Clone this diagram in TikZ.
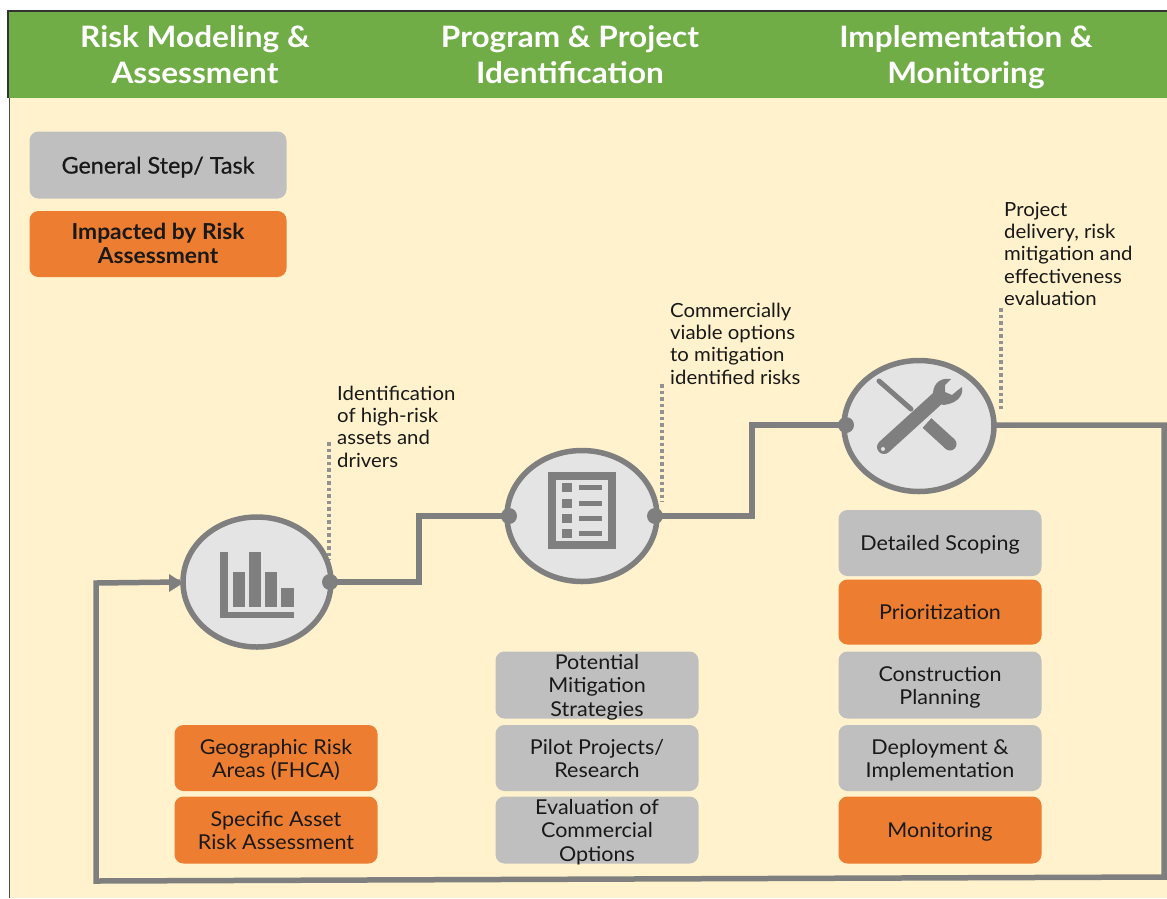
\documentclass[tikz,border=0pt]{standalone}
\usepackage{fontspec}
\usetikzlibrary{shapes.geometric}
\setmainfont{Lato}
\definecolor{hdr}{HTML}{70AD47}
\definecolor{cream}{HTML}{FFF2CC}
\definecolor{gbox}{HTML}{BFBFBF}
\definecolor{obox}{HTML}{ED7D31}
\definecolor{lineg}{HTML}{7F7F7F}
\definecolor{cfill}{HTML}{E4E4E4}
\newcommand{\tline}[1]{\smash{#1}\rule[-0.17\baselineskip]{0pt}{\baselineskip}}
\tikzset{
 x=1pt,y=-1pt,
 hdrtext/.style={text=white,font=\fontsize{29.5}{36}\selectfont\bfseries\addfontfeature{FakeStretch=1.07},align=center,inner sep=0pt},
 boxg/.style={fill=gbox,rounded corners=9pt,minimum width=#1,text=black!90,font=\fontsize{20.5}{23.5}\selectfont\addfontfeature{FakeStretch=1.05},align=center,inner sep=0pt},
 boxo/.style={fill=obox,rounded corners=9pt,minimum width=#1,text=black!90,font=\fontsize{20.5}{23.5}\selectfont\addfontfeature{FakeStretch=1.05},align=center,inner sep=0pt},
 tight/.style={inner ysep=-2pt},
 circ/.style={ellipse,draw=lineg,line width=5.5pt,fill=cfill,inner sep=0pt},
 flow/.style={draw=lineg,line width=5.5pt},
 dots/.style={draw=lineg!85,line width=3.5pt,dash pattern=on 3.5pt off 3pt},
 port/.style={circle,fill=lineg,minimum size=16pt,inner sep=0pt},
 note/.style={font=\fontsize{19.5}{22.2}\selectfont\addfontfeature{FakeStretch=1.045},text=black!90,align=left,anchor=north west,inner sep=0pt},
 icon/.style={fill=lineg,draw=none}
}
\begin{document}
\begin{tikzpicture}
\useasboundingbox (0,0) rectangle (1167,898);
\fill[white] (0,0) rectangle (1167,898);
\fill[cream] (9,96) rectangle (1167,898);
\fill[hdr] (8,12) rectangle (1167,98);
\draw[black!80,line width=1.5pt] (8,98) -- (8,11) -- (1167,11);
\draw[black!70,line width=1.2pt] (9.5,98) -- (9.5,898);
\node[hdrtext] (h1) at (195,53.5) {\tline{Risk Modeling \&}\\\tline{Assessment}};
\node[hdrtext] (h2) at (570,53.5) {\tline{Program \& Project}\\\tline{Identification}};
\node[hdrtext] (h3) at (966,53.5) {\tline{Implementation \&}\\\tline{Monitoring}};

\node[boxg=257pt,minimum height=67pt,font=\fontsize{23}{26}\selectfont\addfontfeature{FakeStretch=1.015,FakeBold=0.6}] (legG) at (158,165) {\tline{General Step/ Task}};
\node[boxo=257pt,minimum height=66pt,font=\fontsize{22}{24}\selectfont\bfseries\addfontfeature{FakeStretch=1.036}] (legO) at (158,244) {\tline{Impacted by Risk}\\\tline{Assessment}};

\node[boxo=203pt,minimum height=66pt] (a1) at (276,758) {\tline{Geographic Risk}\\\tline{Areas (FHCA)}};
\node[boxo=203pt,minimum height=67pt] (a2) at (276,830) {\tline{Specific Asset}\\\tline{Risk Assessment}};

\node[boxg=203pt,minimum height=67pt,tight] (b1) at (597,685) {\tline{Potential}\\\tline{Mitigation}\\\tline{Strategies}};
\node[boxg=203pt,minimum height=66pt] (b2) at (597,758) {\tline{Pilot Projects/}\\\tline{Research}};
\node[boxg=203pt,minimum height=67pt,tight] (b3) at (597,830) {\tline{Evaluation of}\\\tline{Commercial}\\\tline{Options}};

\node[boxg=203pt,minimum height=66pt] (c1) at (940,543) {\tline{Detailed Scoping}};
\node[boxo=203pt,minimum height=65pt] (c2) at (940,612) {\tline{Prioritization}};
\node[boxg=203pt,minimum height=67pt] (c3) at (940,685) {\tline{Construction}\\\tline{Planning}};
\node[boxg=203pt,minimum height=66pt] (c4) at (940,758) {\tline{Deployment \&}\\\tline{Implementation}};
\node[boxo=203pt,minimum height=67pt] (c5) at (940,830) {\tline{Monitoring}};

\coordinate (s1) at (419,582);
\coordinate (s2) at (419,516);
\coordinate (s3) at (752,516);
\coordinate (s4) at (752,425);
\coordinate (r1) at (1164,425);
\coordinate (r2) at (1164,877);
\coordinate (r3) at (96,881);
\coordinate (r4) at (96,583);
\coordinate (d1t) at (329,442);
\coordinate (d1b) at (329,560);
\coordinate (d2t) at (662,384);
\coordinate (d2b) at (662,502);
\coordinate (d3t) at (1001,308);
\coordinate (d3b) at (1001,412);

\draw[dots] (d1t) -- (d1b);
\draw[dots] (d2t) -- (d2b);
\draw[dots] (d3t) -- (d3b);

\node[circ,minimum width=148pt,minimum height=130pt] (n1) at (257,582) {};
\node[circ,minimum width=150pt,minimum height=131pt] (n2) at (582,516) {};
\node[circ,minimum width=150pt,minimum height=131pt] (n3) at (919,426) {};

\coordinate (p1) at (330,582);
\coordinate (p2a) at (509,516);
\coordinate (p2b) at (655,516);
\coordinate (p3a) at (846,425);
\coordinate (p3b) at (995,425);

\draw[flow] (p1) -- (s1) -- (s2) -- (p2a);
\draw[flow] (p2b) -- (s3) -- (s4) -- (p3a);
\draw[flow] (p3b) -- (r1) -- (r2) -- (r3) -- (r4) -- (n1.west);
\node[icon,isosceles triangle,isosceles triangle apex angle=65,inner sep=0pt,minimum height=14pt,minimum width=14pt] (tip) at (174,583) {};
\node[port] (q1) at (p1) {};
\node[port] (q2a) at (p2a) {};
\node[port] (q2b) at (p2b) {};
\node[port] (q3a) at (p3a) {};

% chart icon
\fill[lineg] (220,552) rectangle (227.5,618);
\fill[lineg] (220,611.5) rectangle (294,618);
\fill[lineg] (233,572) rectangle (245,606.5);
\fill[lineg] (249,552) rectangle (261,606.5);
\fill[lineg] (265,572) rectangle (277,606.5);
\fill[lineg] (281,588) rectangle (294,606.5);

% list icon
\draw[lineg,line width=7.5pt,fill=none] (552,476) rectangle (612,545);
\foreach \y in {487,503,518,533}{
 \fill[lineg] (562,\y-4.5) rectangle (572,\y+4.5);
 \fill[lineg] (579,\y-2.5) rectangle (602,\y+2.5);
}

% tools icon
\draw[lineg,line width=5pt,line cap=round] (879,381) -- (911,409);
\draw[lineg,line width=13pt] (927,423) -- (950,444);
\fill[lineg] (950,444) circle (6.5);
\draw[lineg,line width=14pt,line cap=round] (884,447) -- (938,398);
\fill[lineg] (933,397) .. controls (932,386) and (938,377) .. (951,379)
 -- (945,385) -- (945,392) -- (952,395) -- (958,390) -- (962,387)
 .. controls (964,397) and (955,404) .. (943,405) -- cycle;
\fill[cfill] (883,449) circle (2pt);

\node[note] (t1) at (337,386) {Identification\\of high-risk\\assets and\\drivers};
\node[note] (t2) at (670,303) {Commercially\\viable options\\to mitigation\\identified risks};
\node[note] (t3) at (1004,202) {Project\\delivery, risk\\mitigation and\\effectiveness\\evaluation};
\end{tikzpicture}
\end{document}
